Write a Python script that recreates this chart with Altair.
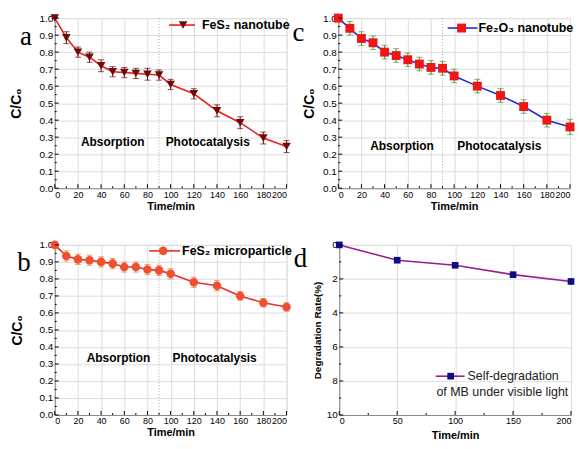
import altair as alt
import pandas as pd

# ---------------- data ----------------
time_abc = [0, 10, 20, 30, 40, 50, 60, 70, 80, 90, 100, 120, 140, 160, 180, 200]

a_vals = [1.0, 0.885, 0.80, 0.77, 0.72, 0.685, 0.68, 0.675, 0.67, 0.665, 0.61, 0.555, 0.455, 0.385, 0.295, 0.245]
a_err = [0.0, 0.035, 0.03, 0.03, 0.035, 0.03, 0.03, 0.03, 0.035, 0.03, 0.03, 0.03, 0.035, 0.035, 0.035, 0.035]

c_vals = [1.0, 0.94, 0.88, 0.855, 0.80, 0.78, 0.755, 0.73, 0.71, 0.705, 0.66, 0.60, 0.545, 0.48, 0.40, 0.36]
c_err = [0.0, 0.04, 0.04, 0.04, 0.04, 0.04, 0.04, 0.04, 0.04, 0.04, 0.04, 0.04, 0.04, 0.04, 0.04, 0.045]

b_vals = [1.0, 0.935, 0.915, 0.91, 0.90, 0.89, 0.87, 0.87, 0.855, 0.85, 0.83, 0.78, 0.76, 0.70, 0.66, 0.635]
b_err = [0.0, 0.03, 0.03, 0.03, 0.03, 0.03, 0.03, 0.03, 0.03, 0.03, 0.03, 0.03, 0.03, 0.025, 0.025, 0.025]

time_d = [0, 50, 100, 150, 200]
d_vals = [0.0, 0.9, 1.2, 1.75, 2.15]

x_ticks_abc = [0, 20, 40, 60, 80, 100, 120, 140, 160, 180, 200]
x_minor_abc = [10, 30, 50, 70, 90, 110, 130, 150, 170, 190]
y_ticks_abc = [0.0, 0.1, 0.2, 0.3, 0.4, 0.5, 0.6, 0.7, 0.8, 0.9, 1.0]
y_minor_abc = [0.05, 0.15, 0.25, 0.35, 0.45, 0.55, 0.65, 0.75, 0.85, 0.95]
x_ticks_d = [0, 50, 100, 150, 200]
x_minor_d = [25, 75, 125, 175]
y_ticks_d = [0, 2, 4, 6, 8, 10]
y_minor_d = [1, 3, 5, 7, 9]

divider_time = [90]

W, H = 233, 171
FONT = "Liberation Sans"
SERIF = "Liberation Serif"

XS = alt.Scale(domain=[0, 200], nice=False)


def inward_ticks(xmaj, xmin, ymaj, ymin, xenc, yenc):
    layers = []
    for vals, ln in ((xmaj, 4), (xmin, 2)):
        layers.append(alt.Chart(pd.DataFrame({"t": vals})).mark_rule(
            color="black", strokeWidth=1).encode(
            x=xenc("t"), y=alt.value(H), y2=alt.value(H - ln)))
    for vals, ln in ((ymaj, 4), (ymin, 2)):
        layers.append(alt.Chart(pd.DataFrame({"v": vals})).mark_rule(
            color="black", strokeWidth=1).encode(
            y=yenc("v"), x=alt.value(0), x2=alt.value(ln)))
    return layers


def panel(vals, errs, line_color, mk_fill, err_color, shape, msize, letter,
          letter_off, legend_label, leg, abs_pos, photo_pos, ytitle_pad):
    df = pd.DataFrame({"t": time_abc, "v": vals, "e": errs})
    df["lo"] = df["v"] - df["e"]
    df["hi"] = df["v"] + df["e"]
    base = alt.Chart(df)
    ys = alt.Scale(domain=[0, 1.0], nice=False)
    xax = alt.Axis(values=x_ticks_abc, title="Time/min", labelOverlap=False,
                   ticks=False, titlePadding=1, labelFontSize=9)
    yax = alt.Axis(values=y_ticks_abc, format=".1f", title="C/C₀",
                   labelOverlap=False, ticks=False, titleFontSize=14,
                   titlePadding=ytitle_pad)

    def xe(f):
        return alt.X(f"{f}:Q", scale=XS, axis=xax)

    def ye(f):
        return alt.Y(f"{f}:Q", scale=ys, axis=yax)

    line = base.mark_line(color=line_color, strokeWidth=1.6).encode(x=xe("t"), y=ye("v"))
    bars = base.mark_rule(color=err_color, strokeWidth=1).encode(
        x=xe("t"), y=ye("lo"), y2="hi:Q")
    caps_hi = base.mark_tick(orient="horizontal", size=6, thickness=1,
                             color=err_color).encode(x=xe("t"), y=ye("hi"))
    caps_lo = base.mark_tick(orient="horizontal", size=6, thickness=1,
                             color=err_color).encode(x=xe("t"), y=ye("lo"))
    pts = base.mark_point(shape=shape, filled=True, size=msize, opacity=1,
                          color=mk_fill).encode(x=xe("t"), y=ye("v"))
    div = alt.Chart(pd.DataFrame({"t": divider_time})).mark_rule(
        color="#aaaaaa", strokeDash=[1, 2], strokeWidth=1).encode(x=xe("t"))

    txt = pd.DataFrame({
        "t": [abs_pos[0], photo_pos[0]],
        "v": [abs_pos[1], photo_pos[1]],
        "label": ["Absorption", "Photocatalysis"],
    })
    texts = alt.Chart(txt).mark_text(font=FONT, fontWeight="bold", fontSize=12,
                                     color="black").encode(
        x=xe("t"), y=ye("v"), text="label:N")

    one = alt.Chart(pd.DataFrame({"k": [letter]}))
    let = one.mark_text(font=SERIF, fontSize=27, color="black",
                        align="center", baseline="middle").encode(
        x=alt.value(letter_off[0]), y=alt.value(letter_off[1]), text="k:N")

    lx0, lx1, lxm, ly, ltx = leg
    leg_line = one.mark_rule(color=line_color, strokeWidth=1.6).encode(
        x=alt.value(lx0), x2=alt.value(lx1), y=alt.value(ly))
    leg_pt = one.mark_point(shape=shape, filled=True, size=msize, opacity=1,
                            color=mk_fill).encode(x=alt.value(lxm), y=alt.value(ly))
    leg_txt = alt.Chart(pd.DataFrame({"k": [legend_label]})).mark_text(
        font=FONT, fontWeight="bold", fontSize=12.5, align="left",
        baseline="middle", color="black").encode(
        x=alt.value(ltx), y=alt.value(ly), text="k:N")

    ticks = inward_ticks(x_ticks_abc, x_minor_abc, y_ticks_abc, y_minor_abc, xe, ye)
    return alt.layer(line, div, bars, caps_hi, caps_lo, pts, texts, let,
                     leg_line, leg_pt, leg_txt, *ticks).properties(width=W, height=H)


pa = panel(a_vals, a_err, "#e3231c", "#6e0a0a", "#6e0a0a", "triangle-down", 75,
           "a", (-29, 19), "FeS₂ nanotube", (115, 141, 129, 7, 148),
           (50, 0.27), (132, 0.27), 16)
pc = panel(c_vals, c_err, "#1f2bd8", "#f01616", "#3a9a3a", "square", 80,
           "c", (-40, 15), "Fe₂O₃ nanotube", (110, 140, 124, 10, 141),
           (55, 0.25), (139, 0.25), 6)
pb = panel(b_vals, b_err, "#e8302a", "#ee5030", "#ee7a40", "circle", 75,
           "b", (-31, 18), "FeS₂ microparticle", (95, 126, 109, 6, 128),
           (55, 0.337), (138, 0.337), 15)

# panel d
dfd = pd.DataFrame({"t": time_d, "v": d_vals})
bd = alt.Chart(dfd)
yds = alt.Scale(domain=[0, 10], nice=False, reverse=True)
xdax = alt.Axis(values=x_ticks_d, title="Time/min", titlePadding=4,
                labelOverlap=False, ticks=False, labelFontSize=9)
ydax = alt.Axis(values=y_ticks_d, title="Degradation Rate(%)",
                labelOverlap=False, ticks=False, titleFontSize=10, titlePadding=4)


def xde(f):
    return alt.X(f"{f}:Q", scale=XS, axis=xdax)


def yde(f):
    return alt.Y(f"{f}:Q", scale=yds, axis=ydax)


d_line = bd.mark_line(color="#9a1f8c", strokeWidth=1.6).encode(x=xde("t"), y=yde("v"))
d_pts = bd.mark_point(shape="square", filled=True, size=45, opacity=1,
                      color="#0c0c85").encode(x=xde("t"), y=yde("v"))
oned = alt.Chart(pd.DataFrame({"k": ["d"]}))
d_let = oned.mark_text(font=SERIF, fontSize=27, color="black",
                       align="center", baseline="middle").encode(
    x=alt.value(-39), y=alt.value(14), text="k:N")
d_leg_line = oned.mark_rule(color="#9a1f8c", strokeWidth=1.6).encode(
    x=alt.value(97), x2=alt.value(126), y=alt.value(132))
d_leg_pt = oned.mark_point(shape="square", filled=True, size=45, opacity=1,
                           color="#0c0c85").encode(x=alt.value(112), y=alt.value(132))
d_leg_t1 = alt.Chart(pd.DataFrame({"k": ["Self-degradation"]})).mark_text(
    font=FONT, fontSize=12.5, align="left", baseline="middle", color="#222").encode(
    x=alt.value(129), y=alt.value(132), text="k:N")
d_leg_t2 = alt.Chart(pd.DataFrame({"k": ["of MB under visible light"]})).mark_text(
    font=FONT, fontSize=12.5, align="center", baseline="middle", color="#222").encode(
    x=alt.value(164), y=alt.value(148), text="k:N")
d_ticks = inward_ticks(x_ticks_d, x_minor_d, y_ticks_d, y_minor_d, xde, yde)
pd_ = alt.layer(d_line, d_pts, d_let, d_leg_line, d_leg_pt, d_leg_t1,
                d_leg_t2, *d_ticks).properties(width=W, height=H)

chart = alt.vconcat(
    alt.hconcat(pa, pc, spacing=0),
    alt.hconcat(pb, pd_, spacing=0),
    spacing=27,
).properties(padding={"left": 0, "top": 3, "right": 0, "bottom": 0}).configure_view(
    stroke="black", strokeWidth=1
).configure_axis(
    grid=False, domainColor="black",
    labelFont=FONT, labelFontWeight="bold", labelFontSize=10, labelColor="black",
    titleFont=FONT, titleFontWeight="bold", titleFontSize=12, titleColor="black",
    labelPadding=5, labelFlush=False,
).configure(background="white")

chart.save("out.html", embed_options={"renderer": "svg", "actions": False})
